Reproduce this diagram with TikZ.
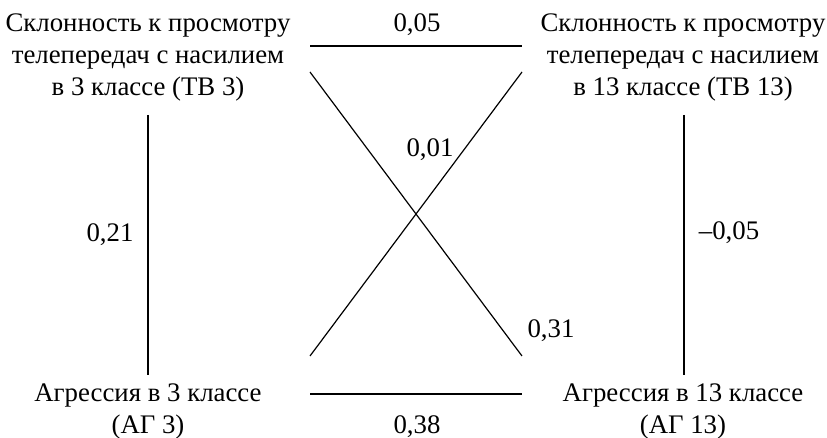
\documentclass[tikz,border=0pt]{standalone}
\usepackage{fontspec}
\setmainfont{Liberation Serif}
\usepackage{tikz}
\usetikzlibrary{calc}

\begin{document}
\begin{tikzpicture}[x=0.5pt,y=-0.5pt,line width=0.6pt,font=\fontsize{13.4}{16}\selectfont,
                var/.style={align=center,inner sep=0pt,anchor=base},
                coef/.style={inner sep=0pt,anchor=base}]
                \useasboundingbox (0,0) rectangle (827,438);
                % variables (base = last line)
                \node[var] (tv3) at (148,96) {Склонность к просмотру\\телепередач с насилием\\в 3 классе (ТВ 3)};
                \node[var] (tv13) at (683,96) {Склонность к просмотру\\телепередач с насилием\\в 13 классе (ТВ 13)};
                \node[var] (ag3) at (148,434) {Агрессия в 3 классе\\(АГ 3)};
                \node[var] (ag13) at (683,434) {Агрессия в 13 классе\\(АГ 13)};
                % line ends
                \coordinate (tv3h) at (310,46);
                \coordinate (tv13h) at (522,46);
                \coordinate (tv3d) at (310,72);
                \coordinate (tv13d) at (522,72);
                \coordinate (ag3d) at (310,356);
                \coordinate (ag13d) at (522,356);
                \coordinate (ag3h) at (310,394);
                \coordinate (ag13h) at (522,394);
                \coordinate (tv3v) at (148,115);
                \coordinate (ag3v) at (148,375);
                \coordinate (tv13v) at (684,115);
                \coordinate (ag13v) at (684,375);
                \draw (tv3h) -- (tv13h);
                \draw (ag3h) -- (ag13h);
                \draw (tv3v) -- (ag3v);
                \draw (tv13v) -- (ag13v);
                \draw (tv3d) -- (ag13d);
                \draw (ag3d) -- (tv13d);
                % coefficients
                \node[coef] (c1) at (417,32) {0,05};
                \node[coef] (c2) at (417,434) {0,38};
                \node[coef] (c3) at (110,242) {0,21};
                \node[coef] (c4) at (729,240) {--0,05};
                \node[coef] (c5) at (430,157) {0,01};
                \node[coef] (c6) at (551,338) {0,31};
\end{tikzpicture}
\end{document}
